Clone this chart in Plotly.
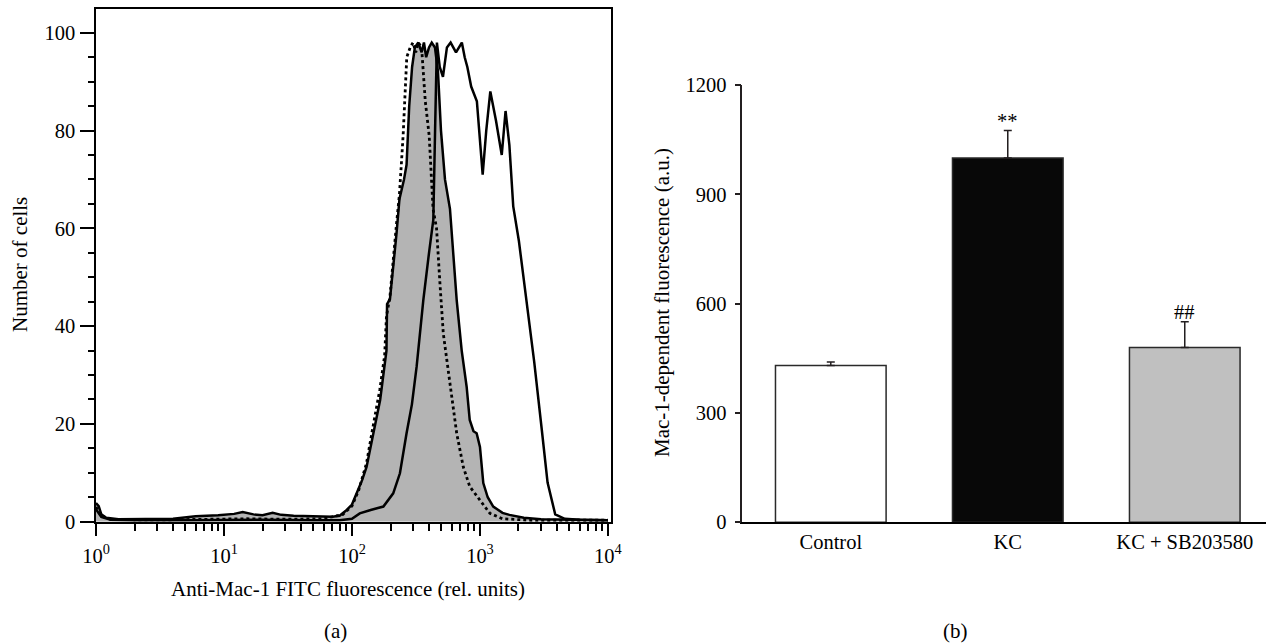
import plotly.graph_objects as go

# ---------------- Panel (a): flow cytometry histograms ----------------
# gray filled histogram (x = fluorescence, rel. units; y = number of cells)
gray_x = [1.0, 1.05, 1.1, 1.2, 1.5, 2.5, 4, 6, 9, 12, 14, 17, 20, 24, 28, 35, 50, 70, 80, 91,
          100, 109, 120, 130, 147, 166, 186, 188, 198, 210, 223, 235, 255, 267, 280, 295, 310,
          330, 350, 365, 380, 400, 420, 445, 470, 496, 533, 583, 620, 658, 720, 787, 832, 890,
          942, 1000, 1062, 1150, 1270, 1500, 1700, 2200, 3000, 5000, 10000]
gray_y = [3.8, 3.2, 1.5, 0.8, 0.5, 0.5, 0.6, 1.1, 1.3, 1.6, 2.0, 1.5, 1.3, 1.8, 1.4, 1.2, 1.1, 1.0, 1.2, 2.4,
          3.5, 5.8, 8.5, 11.2, 18.1, 24.9, 35.0, 44.5, 45.5, 52, 59, 66, 70, 73, 85, 93, 97,
          98, 96, 98, 95, 97, 98, 97, 92, 80, 70, 64, 54, 45.3, 35, 27.6, 20.8, 18.5,
          18.1, 15.3, 7.9, 5.0, 3.1, 1.8, 1.4, 0.8, 0.5, 0.4, 0.3]

# dotted histogram
dot_x = [1.0, 1.1, 1.3, 2, 4, 8, 15, 30, 60, 85, 100, 113, 130, 145, 165, 180, 186, 198, 210,
         223, 235, 251, 268, 285, 300, 315, 330, 350, 374, 401, 430, 458, 487, 517, 583, 658,
         741, 832, 1000, 1197, 1500, 2500, 5000, 10000]
dot_y = [3.0, 1.2, 0.5, 0.4, 0.4, 0.5, 0.6, 0.5, 0.6, 1.5, 3.2, 6.5, 12, 19, 27, 34, 42, 46, 54,
         61, 67, 79, 95, 97, 98, 96, 98, 97, 86, 79, 64, 60, 48.7, 38.5, 28.3, 18.1,
         11.2, 7.2, 4.4, 1.7, 0.6, 0.3, 0.3, 0.3]

# solid (open) histogram
solid_x = [1.0, 1.1, 1.3, 2, 5, 10, 20, 50, 80, 100, 115, 140, 176, 210, 237, 267, 294, 320, 361,
           400, 432, 446, 461, 485, 514, 552, 590, 650, 722, 760, 797, 854, 946, 1050, 1120,
           1205, 1335, 1480, 1585, 1698, 1820, 2015, 2393, 2654, 3048, 3375, 3873, 4600, 6000, 10000]
solid_y = [2.5, 1.0, 0.4, 0.3, 0.3, 0.4, 0.4, 0.3, 0.3, 0.6, 1.7, 2.4, 3.1, 5.8, 9.9, 18.1, 24, 31.7, 45.3,
           55, 61.7, 80, 98, 93, 91, 97, 98, 96, 98, 95, 93, 89, 86, 71, 80,
           88, 82, 75, 84, 77, 64.5, 57.4, 42, 32.7, 18.6, 8, 1.5, 0.6, 0.4, 0.3]

x_major_ticks = [1, 10, 100, 1000, 10000]
x_major_text = ["10<sup>0</sup>", "10<sup>1</sup>", "10<sup>2</sup>", "10<sup>3</sup>", "10<sup>4</sup>"]
y_major_ticks = [0, 20, 40, 60, 80, 100]

# ---------------- Panel (b): bar chart ----------------
categories = ["Control", "KC", "KC + SB203580"]
bar_values = [430, 1000, 480]
bar_errors = [10, 75, 70]
bar_marks = ["", "**", "##"]
bar_ticks = [0, 300, 600, 900, 1200]

# styles
bar_fill = ["#ffffff", "#080808", "#c0c0c0"]
FONT = "Liberation Serif"
TXT = 20.5
TITLE = 21
W, H = 1266, 643


def px(x):
    return x / W


def py(y):
    return 1 - y / H


x_minor = [d * m for d in [1, 10, 100, 1000] for m in range(2, 10)]
y_minor = [v for v in range(5, 105, 5) if v % 20 != 0]

fig = go.Figure()
fig.add_trace(go.Scatter(x=gray_x, y=gray_y, mode="lines", fill="tozeroy",
                         fillcolor="#b4b4b4", line=dict(color="black", width=2.5),
                         xaxis="x", yaxis="y", hoverinfo="skip"))
fig.add_trace(go.Scatter(x=dot_x, y=dot_y, mode="lines",
                         line=dict(color="black", width=2.8, dash="dot"),
                         xaxis="x", yaxis="y"))
fig.add_trace(go.Scatter(x=solid_x, y=solid_y, mode="lines",
                         line=dict(color="black", width=2.5),
                         xaxis="x", yaxis="y"))

fig.add_trace(go.Bar(x=categories, y=bar_values, width=0.625,
                     marker=dict(color=bar_fill, line=dict(color="#2a2a2a", width=1.5)),
                     error_y=dict(type="data", symmetric=False, array=bar_errors,
                                  arrayminus=[0] * len(bar_errors), color="#231f20",
                                  thickness=1.5, width=4),
                     xaxis="x2", yaxis="y2"))


def label(text, x, y, angle=0):
    return dict(text=text, x=px(x), y=py(y), xref="paper", yref="paper",
                xanchor="center", yanchor="middle", textangle=angle,
                showarrow=False, font=dict(size=TITLE))


annotations = [
    label("Number of cells", 20, 265, -90),
    label("Anti-Mac-1 FITC fluorescence (rel. units)", 348, 589),
    label("Mac-1-dependent fluorescence (a.u.)", 662, 303, -90),
    label("(a)", 335, 631),
    label("(b)", 955, 631),
]
for cat, v, e, m in zip(categories, bar_values, bar_errors, bar_marks):
    if m:
        annotations.append(dict(text=m, x=cat, y=v + e, xref="x2", yref="y2",
                                xanchor="center", yanchor="bottom", yshift=-3,
                                showarrow=False, font=dict(size=TXT)))

fig.update_layout(
    width=W, height=H, margin=dict(l=0, r=0, t=0, b=0, autoexpand=False),
    paper_bgcolor="white", plot_bgcolor="white", showlegend=False,
    font=dict(family=FONT, size=TXT, color="black"),
    xaxis=dict(type="log", range=[0, 4.02], domain=[px(96), px(610.5)], anchor="y",
               automargin=False,
               tickmode="array", tickvals=x_major_ticks, ticktext=x_major_text,
               ticks="outside", ticklen=13, tickwidth=2, tickcolor="black",
               minor=dict(tickmode="array", tickvals=x_minor, ticks="outside", ticklen=8,
                          tickwidth=2, tickcolor="black", showgrid=False),
               showline=True, linecolor="black", linewidth=1.5, mirror=True,
               showgrid=False, zeroline=False, ticklabelstandoff=2),
    yaxis=dict(range=[0, 104.8], domain=[py(521.7), py(9.3)], anchor="x",
               automargin=False,
               tickmode="array", tickvals=y_major_ticks,
               ticks="outside", ticklen=14, tickwidth=2, tickcolor="black",
               minor=dict(tickmode="array", tickvals=y_minor, ticks="outside", ticklen=6,
                          tickwidth=2, tickcolor="black", showgrid=False),
               showline=True, linecolor="black", linewidth=1.5, mirror=True,
               showgrid=False, zeroline=False, ticklabelstandoff=1),
    xaxis2=dict(domain=[px(742.3), 1.0], range=[-0.5, 2.459], anchor="y2", type="category",
                automargin=False,
                showline=True, linecolor="black", linewidth=2, ticks="",
                showgrid=False, zeroline=False, ticklabelstandoff=0),
    yaxis2=dict(domain=[py(522.3), py(85)], range=[0, 1200], anchor="x2",
                automargin=False,
                tickmode="array", tickvals=bar_ticks, ticks="outside", ticklen=6,
                tickwidth=1.5, tickcolor="#231f20", showline=True, linecolor="#231f20",
                linewidth=1.5, showgrid=False, zeroline=False, ticklabelstandoff=4),
    annotations=annotations,
)

fig.write_html("out.html", config={"displayModeBar": False},
               post_script="document.body.style.margin='0px';document.body.style.overflow='hidden';")
